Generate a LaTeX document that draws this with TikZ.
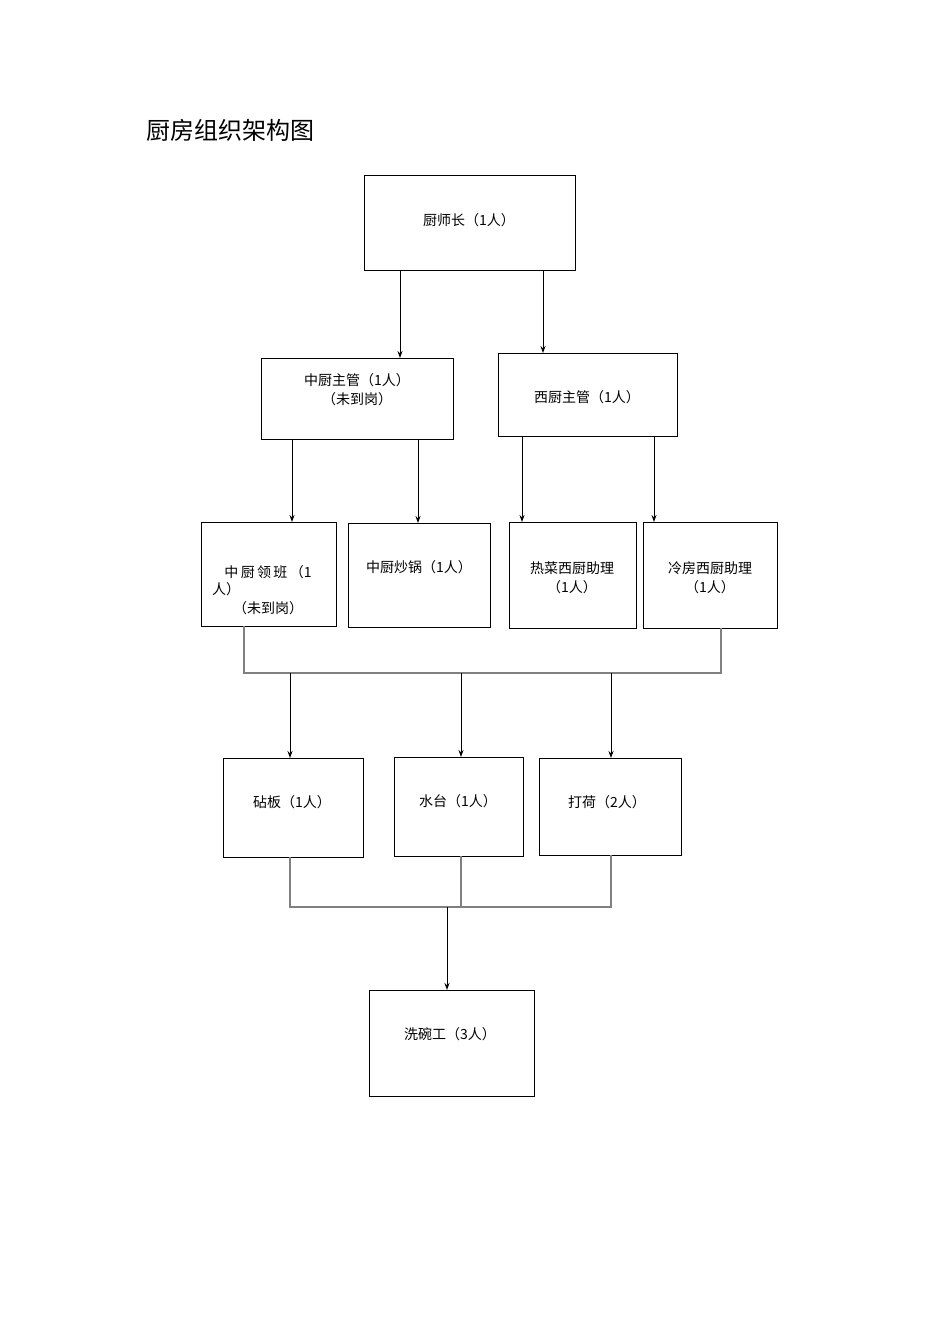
\documentclass[tikz,border=0pt]{standalone}
\usepackage{fontspec}
\newfontfamily\cjk{Noto Sans CJK SC}
\usetikzlibrary{arrows.meta}
\begin{document}
\begin{tikzpicture}[x=1pt,y=-1pt,
  bx/.style={draw,line width=1pt},
  t/.style={font=\cjk\fontsize{14}{19}\selectfont,align=center},
  ar/.style={-{Stealth[length=7pt,width=5pt]},line width=1pt},
  gl/.style={draw=gray,line width=1.2pt}]
\useasboundingbox (0,0) rectangle (950,1344);
\node[font=\cjk\fontsize{24}{28}\selectfont,anchor=west] (title) at (143,130) {厨房组织架构图};
\draw[bx] (364,175) rectangle (575,270); \node[t] (a) at (469,220) {厨师长（1人）};
\draw[bx] (261,358) rectangle (453,439); \node[t] (b) at (357,390) {中厨主管（1人）\\（未到岗）};
\draw[bx] (498,353) rectangle (677,436); \node[t] (c) at (587,397) {西厨主管（1人）};
\draw[bx] (201,522) rectangle (336,626); \node[t] (d) at (268,590) {中\,厨\,领\,班\,（1\\[-2pt]\hspace*{-6em}人）\\（未到岗）};
\draw[bx] (348,523) rectangle (490,627); \node[t] (e) at (419,567) {中厨炒锅（1人）};
\draw[bx] (509,522) rectangle (636,628); \node[t] (f) at (572,578) {热菜西厨助理\\（1人）};
\draw[bx] (643,522) rectangle (777,628); \node[t] (g) at (710,578) {冷房西厨助理\\（1人）};
\draw[bx] (223,758) rectangle (363,857); \node[t] (h) at (292,802) {砧板（1人）};
\draw[bx] (394,757) rectangle (523,856); \node[t] (i) at (458,801) {水台（1人）};
\draw[bx] (539,758) rectangle (681,855); \node[t] (j) at (607,802) {打荷（2人）};
\draw[bx] (369,990) rectangle (534,1096); \node[t] (k) at (450,1034) {洗碗工（3人）};
\draw[ar] (400,270) -- (400,358);
\draw[ar] (543,270) -- (543,353);
\draw[ar] (292,439) -- (292,522);
\draw[ar] (418,439) -- (418,523);
\draw[ar] (522,436) -- (522,522);
\draw[ar] (654,436) -- (654,522);
\draw[gl] (244,626) -- (244,673) -- (721,673) -- (721,628);
\draw[ar] (290,673) -- (290,758);
\draw[ar] (461,673) -- (461,757);
\draw[ar] (611,673) -- (611,758);
\draw[gl] (290,857) -- (290,907) -- (611,907) -- (611,855);
\draw[gl] (461,856) -- (461,907);
\draw[ar] (447,907) -- (447,990);
\end{tikzpicture}
\end{document}
